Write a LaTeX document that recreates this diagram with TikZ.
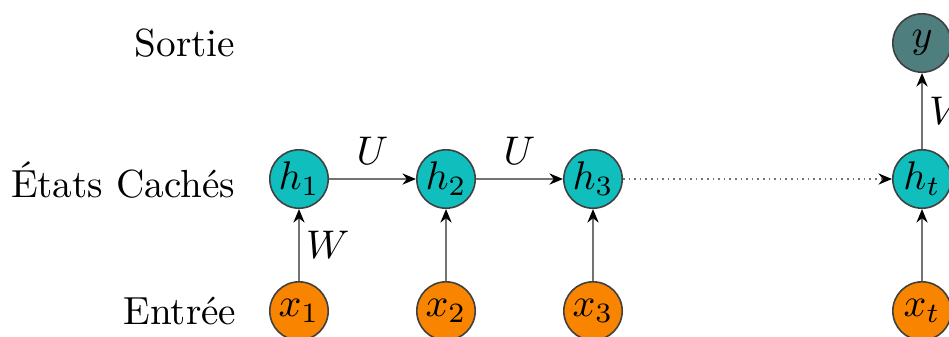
\documentclass[tikz,border=0pt]{standalone}
\usetikzlibrary{arrows.meta}
\definecolor{hid}{RGB}{16,190,190}
\definecolor{inp}{RGB}{248,132,0}
\definecolor{outc}{RGB}{78,126,126}
\tikzset{
  unit/.style={circle, draw=black!75, line width=0.4pt, minimum size=14.6pt, inner sep=0pt},
  hidden/.style={unit, fill=hid},
  inputn/.style={unit, fill=inp},
  outputn/.style={unit, fill=outc},
  conn/.style={draw=black!55, line width=0.4pt, -{Stealth[length=3.4pt,width=2.8pt,black]}},
  rowlabel/.style={anchor=east, inner sep=0pt, font=\fontsize{9.8}{12}\selectfont},
  sidelabel/.style={right, inner sep=1.6pt}
}
\begin{document}
\begin{tikzpicture}[x=0.25pt,y=-0.25pt]
\useasboundingbox (0,0) rectangle (949,336);
% row labels
\node[rowlabel] (lout) at (236,43) {Sortie};
\node[rowlabel] (lhid) at (236,180) {États Cachés};
\node[rowlabel] (linp) at (237,311) {Entrée};
% hidden
\node[hidden] (h1) at (299,179) {$h_1$};
\node[hidden] (h2) at (446,179) {$h_2$};
\node[hidden] (h3) at (593,179) {$h_3$};
\node[hidden] (ht) at (922,179) {$h_t$};
% inputs
\node[inputn] (x1) at (299,311) {$x_1$};
\node[inputn] (x2) at (446,311) {$x_2$};
\node[inputn] (x3) at (593,311) {$x_3$};
\node[inputn] (xt) at (922,311) {$x_t$};
% output
\node[outputn] (y) at (922,43) {$y$};
% connectors
\draw[conn] (h1) -- node[above] (lu1) {$U$} (h2);
\draw[conn] (h2) -- node[above] (lu2) {$U$} (h3);
\draw[conn, densely dotted] (h3) -- (ht);
\draw[conn] (x1) -- node[sidelabel] (lw) {$W$} (h1);
\draw[conn] (x2) -- (h2);
\draw[conn] (x3) -- (h3);
\draw[conn] (xt) -- (ht);
\draw[conn] (ht) -- node[sidelabel] (lv) {$V$} (y);
\end{tikzpicture}
\end{document}
